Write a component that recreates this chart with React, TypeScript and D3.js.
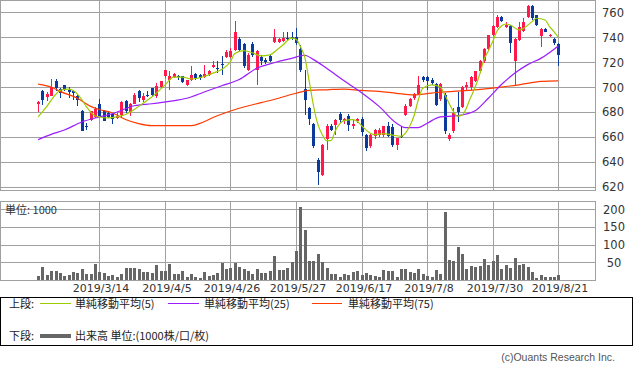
import React from "react";
import * as d3 from "d3";

// ---- data ----
const startDate = "2019-02-22";
const endDate = "2019-08-21";
const holidays = ["2019-03-21", "2019-04-29", "2019-04-30", "2019-05-01", "2019-05-02", "2019-05-03", "2019-05-06", "2019-07-15", "2019-08-12"];
const tickDates = ["2019/3/14", "2019/4/5", "2019/4/26", "2019/5/27", "2019/6/17", "2019/7/8", "2019/7/30", "2019/8/21"];
const priceTicks = [760, 740, 720, 700, 680, 660, 640, 620];
const volumeTicks = [200, 150, 100, 50];

const open = [686.4,697,692.2,693,705,698.4,701.8,697.5,697,693,681,668.5,673.3,676,686.6,681,679,678,675,677.8,688.5,680,686.5,697,690,694,698.9,692.5,700,708.5,705.3,708,709,708.5,701.8,705.3,710.6,709.8,708,709.8,716,715.5,718.6,724,724.5,729.8,738.4,734.6,713.8,734.3,713.8,724,722,725,736.5,736.5,737.3,739.5,740,740,730.4,698.6,683.2,670.6,641.3,629.3,658.4,669,669.8,678.4,672.5,677,669,672.5,674.4,661.8,652.5,661,661.8,661.8,668.5,668,653.8,660.5,677.8,685,691.2,694.6,708,708,705.8,702.6,690.4,693.3,658,664.5,684,684,700,700,705,712.5,720.5,730.4,741.8,748,756,748,749,720.5,738,745,755.9,765,757.8,741,746.4,741.5,738.4,734.6];
const high = [689,697.5,696,706.6,706.6,699.4,702,700,698,694.4,681.5,671.5,681,684,690.6,681.5,680,679,679,688.5,690,687,695,697.5,695,697,699,703,705,714,713,711,710,709,706,716.5,711,710.6,717.8,714,721,721,725,730,731,753.3,740,735,727,736,730,726,723,726,746.4,739,744.5,744.5,744.5,747.2,733.8,713.8,684,671,643,654,670,670,674,680,675,678,673.5,675,676,662,662,666.5,667,669,672,670,659.5,668.5,686,691,695,708.5,709,709,707,703,703,695,663,683,696,701,704,709,713,722,731,742,750,758,757,752,750,739,752,755,765.5,765.5,758,747,747,742.5,739,735];
const low = [680,685.6,689,693,696.5,691.4,696.5,691,690,684.5,664.5,665.5,673,675,676.5,672.5,675,670.4,674,675,679,677,686,688,688,692,692,691,699,707,697.3,707,706,703,701,705,706,706,707,709,715,711,710,723,723,729,729,715,713,724,701.8,718,718.5,720,735.5,735,736.5,737,738,734,712,677.8,669.8,651,621.8,629,649.8,665,661.8,671,670,664.5,666,671,661,649,651,658,660,660,660,652,649.8,659,677,684,690,694,704,697.8,702,684.5,689,662,657,663,672,683,698,698,704,711,719,729,741,747,752,747,727.7,700.5,737,744,755,754,749,732.5,744,740.5,734,717];
const close = [688,689.3,694.4,700,699.2,695.2,697.3,696,695,689.8,664.5,668,680.5,682,677,672.8,676,674.5,677,687.7,680.5,686,693.5,691,693,693.5,693.3,701,704.5,713.8,708.5,710.6,708,703.7,705.3,709.8,706.9,706.9,710.6,713,717.8,714.5,717.3,728.5,729.3,744.5,729.8,716.5,725.8,725.8,729.3,721,719.7,721,740,738.4,739.2,739,739.5,735.2,713.3,689.3,674.4,653,631.7,653.8,669,665.8,673.3,673.8,674.4,669.8,670.4,674.4,663.7,651.2,661.8,665.8,665.8,668.5,661,653.8,659.2,660,685,690.4,694.6,701.8,705.3,704.5,703.2,685.8,702.6,664.5,661.8,679.2,680,700,702,708,712.5,721,730.4,741.8,749,756,753.3,750,735.7,738.4,748,752,765,755.2,749.8,746.4,744.5,742,735.7,725.8];
const volume = [11,37,14,25,24,21,12,14,22,21,31,16,18,46,22,20,12,14,9,18,34,34,34,31,22,23,21,42,24,26,45,17,17,26,9,17,8,6,23,11,15,19,49,32,35,49,38,31,25,18,31,21,19,24,68,28,28,34,51,82,207,141,54,54,74,51,34,17,17,8,17,14,23,25,14,20,14,11,8,28,24,25,8,31,31,23,20,31,17,11,8,28,17,192,57,54,93,74,31,40,37,40,59,42,54,71,31,42,34,62,42,45,37,23,6,14,8,8,8,14];

// moving averages read at sample sessions: [session index, value]
const ma5 = [[0,676],[2,684.5],[4,694],[5,697.3],[7,698.4],[8,697.3],[10,690],[11,684.5],[13,677],[14,676],[16,675.2],[18,676],[20,678],[22,682],[24,687],[26,692],[29,701.5],[31,708],[33,708],[35,706.5],[38,708.5],[40,711.2],[42,714],[44,720.5],[45,727],[47,729.3],[49,727.5],[51,725],[53,725.8],[55,731],[56,733.8],[58,739.2],[59,738.4],[60,732.5],[61,724],[62,705],[63,685],[64,670],[65,662],[66,657],[67,657],[68,665],[70,673],[72,673.8],[73,672.5],[74,669],[76,663],[77,661.8],[79,662.6],[81,661.5],[83,660.5],[85,668.5],[86,677],[87,690],[88,699],[90,701.8],[92,700],[93,694],[95,680.5],[96,676.5],[97,677.5],[99,692],[100,700],[101,710],[102,722],[103,729],[104,736.5],[105,745],[106,749],[107,750.6],[108,749.8],[110,745.8],[111,747],[113,752.5],[114,755.2],[116,753.8],[117,748.5],[118,744.5],[119,740]];
const ma25 = [[0,657.8],[3,662],[6,665.5],[10,672],[14,676],[17,678.6],[22,685],[26,686.6],[30,688.5],[34,691],[38,696],[42,701],[46,706],[50,715],[54,719.5],[58,723],[61,725.5],[63,722],[66,715],[70,705],[74,695.5],[78,684.5],[82,671],[84,667.5],[87,667.5],[89,671],[92,676],[96,677],[100,681],[103,691],[106,702],[109,711],[112,718],[115,723],[119,733]];
const ma75 = [[0,702.4],[3,700],[5,696.5],[9,691],[12,684.5],[14,682],[17,679.2],[20,674],[23,670.6],[26,669],[30,669],[35,669],[37,670.8],[41,677],[46,683],[51,687.5],[55,691],[59,695],[62,697.3],[66,697.8],[70,698.4],[74,697.3],[78,696.5],[82,695],[86,693.8],[90,695.2],[95,696.5],[100,697.8],[106,700],[110,701.8],[115,704.5],[119,705]];

// ---- trading calendar ----
function tradingDays(): string[] {
  const out: string[] = [];
  const hol = new Set(holidays);
  const fmt = d3.utcFormat("%Y-%m-%d");
  const lab = d3.utcFormat("%Y/%-m/%-d");
  for (let d = new Date(startDate + "T00:00:00Z"); d <= new Date(endDate + "T00:00:00Z"); d = d3.utcDay.offset(d, 1)) {
    const wd = d.getUTCDay();
    if (wd === 0 || wd === 6 || hol.has(fmt(d))) continue;
    out.push(lab(d));
  }
  return out;
}

const UP = "#ff1a4b";
const DOWN = "#0a3a9e";
const GRID = "#a0a0a0";
const NUM_FONT = "'DejaVu Sans', sans-serif";
const JP_FONT = "'Noto Sans CJK JP', sans-serif";

export default function App() {
  const dates = tradingDays();
  const n = close.length;
  const x = d3.scaleLinear().domain([-8.72, 127.4]).range([0, 595]);
  const y = d3.scaleLinear().domain([617.4, 769.84]).range([190, 0]);
  const yv = d3.scaleLinear().domain([0, 220]).range([280, 202]);
  const cx = (i: number) => Math.round(x(i));
  const idx = d3.range(n);
  const tickIdx = tickDates.map((t) => dates.indexOf(t));

  const line = d3.line<number[]>().x((d) => x(d[0])).y((d) => y(d[1])).curve(d3.curveMonotoneX);

  return (
    <svg width={633} height={372} style={{ position: "absolute", left: 0, top: 0, background: "#fff" }}>
      {/* main panel grid */}
      <g shapeRendering="crispEdges">
        {priceTicks.map((v) => (
          <line key={"hp" + v} x1={0} x2={595} y1={Math.round(y(v)) + 0.5} y2={Math.round(y(v)) + 0.5} stroke={GRID} />
        ))}
        {tickIdx.map((i) => (
          <line key={"vp" + i} x1={cx(i) + 0.5} x2={cx(i) + 0.5} y1={0} y2={190} stroke={GRID} />
        ))}
        <rect x={0.5} y={0.5} width={595} height={190} fill="none" stroke={GRID} />
      </g>
      {/* candles */}
      <g shapeRendering="crispEdges">
        {idx.map((i) => {
          const up = close[i] >= open[i];
          const col = up ? UP : DOWN;
          const top = Math.round(y(Math.max(open[i], close[i])));
          const bot = Math.round(y(Math.min(open[i], close[i])));
          return (
            <g key={"c" + i}>
              <line x1={cx(i) + 0.5} x2={cx(i) + 0.5} y1={Math.round(y(high[i]))} y2={Math.round(y(low[i]))} stroke={col} />
              <rect x={cx(i) - 1} y={top} width={3} height={Math.max(1, bot - top)} fill={col} />
            </g>
          );
        })}
      </g>
      {/* moving averages */}
      <path d={line(ma75 as any) || ""} fill="none" stroke="#ff3b00" strokeWidth={1.2} />
      <path d={line(ma25 as any) || ""} fill="none" stroke="#9a1cff" strokeWidth={1.2} />
      <path d={line(ma5 as any) || ""} fill="none" stroke="#9ccc00" strokeWidth={1.2} />
      {/* price labels */}
      {priceTicks.map((v) => (
        <text key={"pl" + v} x={602} y={y(v) + 4.5} fontSize={11.5} fontFamily={NUM_FONT} fill="#333">{v}</text>
      ))}

      {/* volume panel */}
      <g shapeRendering="crispEdges">
        {volumeTicks.map((v) => (
          <line key={"hv" + v} x1={0} x2={595} y1={Math.round(yv(v)) + 0.5} y2={Math.round(yv(v)) + 0.5} stroke={GRID} />
        ))}
        {tickIdx.map((i) => (
          <line key={"vv" + i} x1={cx(i) + 0.5} x2={cx(i) + 0.5} y1={202} y2={280} stroke={GRID} />
        ))}
        {idx.map((i) => (
          <rect key={"v" + i} x={cx(i) - 1} y={Math.round(yv(volume[i]))} width={3} height={280 - Math.round(yv(volume[i]))} fill="#666" />
        ))}
        <rect x={0.5} y={201.5} width={595} height={79} fill="none" stroke={GRID} />
      </g>
      <text x={5} y={214} fontSize={11} fontFamily={JP_FONT} fill="#333">単位: 1000</text>
      {volumeTicks.map((v) => (
        <text key={"vl" + v} x={614} y={yv(v) + 4.5} fontSize={11.5} fontFamily={NUM_FONT} fill="#333" textAnchor="middle">{v}</text>
      ))}
      {/* date labels */}
      {tickIdx.map((i, k) => (
        <text key={"dl" + i} x={cx(i) + 2} y={291.5} fontSize={11} fontFamily={NUM_FONT} fill="#333" textAnchor="middle">{tickDates[k]}</text>
      ))}

      {/* legend */}
      <rect x={0.5} y={297.5} width={632} height={48} fill="none" stroke="#000" shapeRendering="crispEdges" />
      <g fontSize={11} fontFamily={JP_FONT} fill="#222">
        <text x={9} y={307.5}>上段:</text>
        <line x1={40} x2={71} y1={303.5} y2={303.5} stroke="#9ccc00" shapeRendering="crispEdges" />
        <text x={75} y={307.5}>単純移動平均(5)</text>
        <line x1={168} x2={199} y1={303.5} y2={303.5} stroke="#9a1cff" shapeRendering="crispEdges" />
        <text x={204} y={307.5}>単純移動平均(25)</text>
        <line x1={312} x2={342} y1={303.5} y2={303.5} stroke="#ff3b00" shapeRendering="crispEdges" />
        <text x={348} y={307.5}>単純移動平均(75)</text>
        <text x={9} y={340}>下段:</text>
        <line x1={40} x2={71} y1={336} y2={336} stroke="#666" strokeWidth={4} shapeRendering="crispEdges" />
        <text x={75} y={340}>出来高 単位:(1000株/口/枚)</text>
      </g>
      <text x={615} y={361} fontSize={10.5} fontFamily="'Liberation Sans', sans-serif" fill="#555" textAnchor="end">(c)Ouants Research Inc.</text>
    </svg>
  );
}
